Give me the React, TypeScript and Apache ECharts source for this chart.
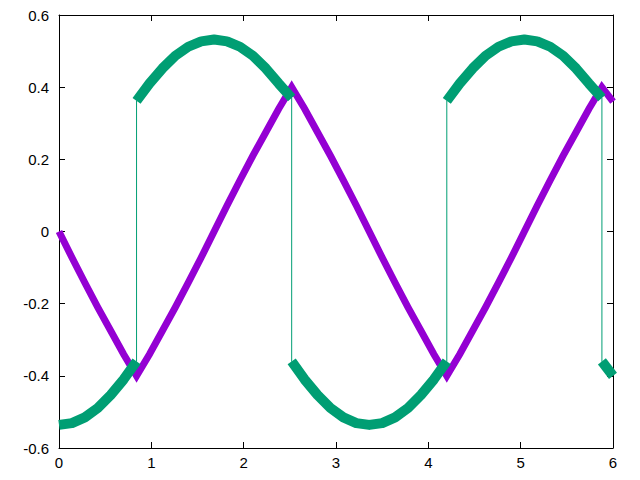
import React, { useEffect, useRef } from 'react';
import * as echarts from 'echarts';

const purpleX = [
  0, 0.14, 0.28, 0.42, 0.56, 0.7, 0.84, 0.98, 1.12, 1.26, 1.4, 1.54, 1.68,
  1.82, 1.96, 2.1, 2.24, 2.38, 2.52, 2.66, 2.8, 2.94, 3.08, 3.22, 3.36,
  3.5, 3.64, 3.78, 3.92, 4.06, 4.2, 4.34, 4.48, 4.62, 4.76, 4.9, 5.04,
  5.18, 5.32, 5.46, 5.6, 5.74, 5.88, 6.0,
];
const purpleY = [
  0, -0.072, -0.142, -0.21, -0.275, -0.34, -0.4, -0.34, -0.275, -0.21, -0.142, -0.072, 0,
  0.072, 0.142, 0.21, 0.275, 0.34, 0.4, 0.34, 0.275, 0.21, 0.142, 0.072, 0,
  -0.072, -0.142, -0.21, -0.275, -0.34, -0.4, -0.34, -0.275, -0.21, -0.142, -0.072, 0,
  0.072, 0.142, 0.21, 0.275, 0.34, 0.4, 0.36,
];

const greenX = [
  0, 0.14, 0.28, 0.42, 0.56, 0.7, 0.84,
  0.84, 0.98, 1.12, 1.26, 1.4, 1.54, 1.68, 1.82, 1.96, 2.1, 2.24, 2.38, 2.52,
  2.52, 2.66, 2.8, 2.94, 3.08, 3.22, 3.36, 3.5, 3.64, 3.78, 3.92, 4.06, 4.2,
  4.2, 4.34, 4.48, 4.62, 4.76, 4.9, 5.04, 5.18, 5.32, 5.46, 5.6, 5.74, 5.88,
  5.88, 6.0,
];
const greenY = [
  -0.536, -0.531, -0.515, -0.489, -0.453, -0.41, -0.36,
  0.362, 0.41, 0.452, 0.487, 0.512, 0.527, 0.532, 0.527, 0.512, 0.487, 0.452, 0.41, 0.37,
  -0.36, -0.41, -0.453, -0.489, -0.515, -0.531, -0.536, -0.531, -0.515, -0.489, -0.453, -0.41, -0.36,
  0.362, 0.41, 0.452, 0.487, 0.512, 0.527, 0.532, 0.527, 0.512, 0.487, 0.452, 0.41, 0.37,
  -0.36, -0.4,
];

const xTicks = { min: 0, max: 6, interval: 1 };
const yTicks = { min: -0.6, max: 0.6, interval: 0.2 };

const PURPLE = '#9400d3';
const GREEN = '#009e73';
const FONT = 'Liberation Sans, Arial, sans-serif';

export default function App() {
  const ref = useRef<HTMLDivElement>(null);
  useEffect(() => {
    document.body.style.margin = '0';
    const chart = echarts.init(ref.current!, null, { renderer: 'svg' });

    const purpleData = purpleX.map((x, i) => [x, purpleY[i]]);
    const greenData = greenX.map((x, i) => [x, greenY[i]]);
    const segments: number[][][] = [];
    let cur: number[][] = [];
    greenData.forEach((p, i) => {
      if (i > 0 && p[0] === greenData[i - 1][0]) {
        segments.push(cur);
        cur = [];
      }
      cur.push(p);
    });
    segments.push(cur);

    const axisLine = { show: true, onZero: false, lineStyle: { color: '#000', width: 1 } };
    const tick = (len: number) => ({ show: true, inside: true, length: len, lineStyle: { color: '#000', width: 1 } });
    const fmt = (v: number) => String(Math.round(v * 10) / 10);

    const option: any = {
      animation: false,
      backgroundColor: '#fff',
      grid: { left: 59, right: 27, top: 15, bottom: 32, containLabel: false },
      xAxis: [
        {
          type: 'value', ...xTicks, position: 'bottom',
          axisLine, axisTick: tick(6), splitLine: { show: false },
          axisLabel: { color: '#000', fontSize: 15, fontFamily: FONT, margin: 7, formatter: fmt },
        },
        {
          type: 'value', ...xTicks, position: 'top',
          axisLine, axisTick: tick(6), splitLine: { show: false },
          axisLabel: { show: false },
        },
      ],
      yAxis: [
        {
          type: 'value', ...yTicks, position: 'left',
          axisLine, axisTick: tick(6), splitLine: { show: false },
          axisLabel: { color: '#000', fontSize: 15, fontFamily: FONT, margin: 10, formatter: fmt },
        },
        {
          type: 'value', ...yTicks, position: 'right',
          axisLine, axisTick: tick(6), splitLine: { show: false },
          axisLabel: { show: false },
        },
      ],
      series: [
        {
          type: 'line', data: purpleData, showSymbol: false, symbol: 'none',
          lineStyle: { color: PURPLE, width: 7, cap: 'butt', join: 'miter' },
          z: 2,
        },
        {
          type: 'line', data: greenData, showSymbol: false, symbol: 'none',
          lineStyle: { color: GREEN, width: 1 },
          z: 3,
        },
        ...segments.map((seg) => ({
          type: 'line', data: seg, showSymbol: false, symbol: 'none',
          lineStyle: { color: GREEN, width: 10, cap: 'butt', join: 'round' },
          z: 4,
        })),
      ],
    };
    chart.setOption(option);
    return () => chart.dispose();
  }, []);
  return <div ref={ref} style={{ width: 640, height: 480 }} />;
}
